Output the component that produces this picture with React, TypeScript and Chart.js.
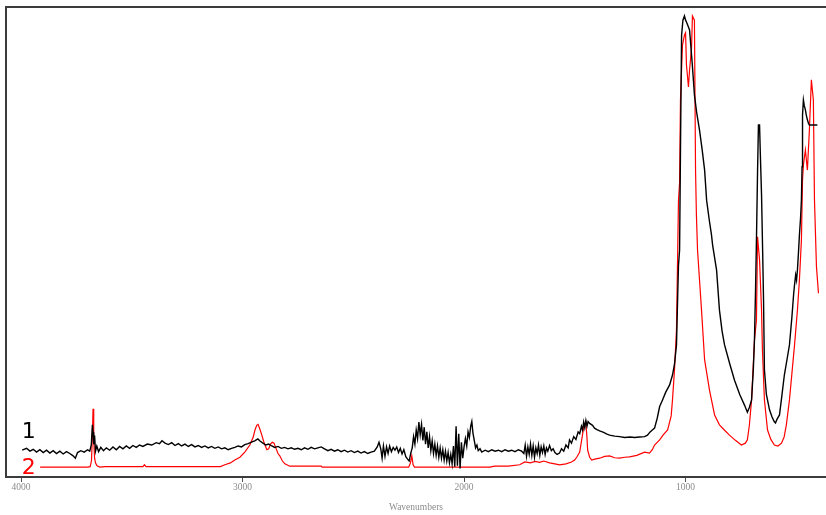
import { useEffect, useRef } from "react";
import { Chart, registerables } from "chart.js";

Chart.register(...registerables);

// Wavenumber axis (cm-1), drawn high to low
const wavenumberLow = 366;
const wavenumberHigh = 4068;
const xTickValues = [4000, 3000, 2000, 1000];

// Spectrum 1 (black): [wavenumber, absorbance]
const spectrum1: [number, number][] = [
  [3995, 0.057], [3975, 0.061], [3960, 0.055], [3945, 0.059], [3930, 0.053], [3915, 0.058], [3900, 0.052],
  [3885, 0.057], [3870, 0.051], [3855, 0.056], [3840, 0.05], [3825, 0.055], [3810, 0.049], [3795, 0.054],
  [3780, 0.05], [3765, 0.045], [3755, 0.04], [3745, 0.052], [3730, 0.056], [3715, 0.053], [3700, 0.058],
  [3690, 0.055], [3683, 0.068], [3678, 0.111], [3675, 0.095], [3672, 0.07], [3668, 0.088], [3664, 0.055],
  [3658, 0.066], [3650, 0.054], [3640, 0.063], [3628, 0.056], [3615, 0.062], [3600, 0.057], [3585, 0.064],
  [3570, 0.058], [3555, 0.065], [3540, 0.06], [3525, 0.066], [3510, 0.061], [3495, 0.067], [3480, 0.063],
  [3465, 0.068], [3450, 0.065], [3430, 0.07], [3410, 0.068], [3390, 0.073], [3375, 0.071], [3364, 0.077],
  [3350, 0.072], [3335, 0.069], [3320, 0.073], [3305, 0.067], [3290, 0.071], [3275, 0.066], [3260, 0.07],
  [3245, 0.065], [3230, 0.069], [3215, 0.064], [3200, 0.067], [3185, 0.063], [3170, 0.066], [3155, 0.062],
  [3140, 0.065], [3125, 0.061], [3110, 0.064], [3095, 0.06], [3080, 0.062], [3065, 0.058], [3050, 0.061],
  [3035, 0.063], [3020, 0.066], [3005, 0.064], [2990, 0.069], [2975, 0.071], [2960, 0.074], [2945, 0.077],
  [2931, 0.081], [2920, 0.076], [2908, 0.072], [2895, 0.068], [2882, 0.07], [2868, 0.066], [2855, 0.063],
  [2840, 0.065], [2825, 0.061], [2810, 0.063], [2795, 0.06], [2780, 0.062], [2765, 0.059], [2750, 0.061],
  [2735, 0.058], [2720, 0.062], [2705, 0.059], [2690, 0.063], [2675, 0.06], [2660, 0.062], [2645, 0.064],
  [2630, 0.06], [2615, 0.056], [2600, 0.059], [2585, 0.055], [2570, 0.058], [2555, 0.054], [2540, 0.057],
  [2525, 0.053], [2510, 0.056], [2495, 0.052], [2480, 0.055], [2465, 0.051], [2450, 0.054], [2435, 0.05],
  [2420, 0.053], [2405, 0.055], [2392, 0.064], [2384, 0.074], [2376, 0.06], [2370, 0.04], [2364, 0.066],
  [2357, 0.044], [2350, 0.064], [2343, 0.05], [2336, 0.066], [2328, 0.054], [2320, 0.063], [2312, 0.057],
  [2304, 0.064], [2296, 0.052], [2288, 0.061], [2280, 0.049], [2272, 0.058], [2263, 0.043], [2255, 0.038],
  [2248, 0.034], [2240, 0.052], [2234, 0.062], [2228, 0.086], [2222, 0.07], [2216, 0.1], [2210, 0.082],
  [2204, 0.117], [2198, 0.09], [2192, 0.112], [2186, 0.078], [2180, 0.106], [2174, 0.07], [2168, 0.096],
  [2162, 0.062], [2156, 0.086], [2150, 0.056], [2144, 0.077], [2138, 0.05], [2132, 0.07], [2126, 0.046],
  [2120, 0.066], [2114, 0.042], [2108, 0.062], [2102, 0.04], [2096, 0.058], [2090, 0.036], [2084, 0.055],
  [2078, 0.034], [2072, 0.052], [2066, 0.03], [2060, 0.048], [2054, 0.028], [2048, 0.066], [2042, 0.022],
  [2036, 0.108], [2030, 0.024], [2024, 0.092], [2018, 0.018], [2012, 0.074], [2006, 0.04], [2000, 0.064],
  [1994, 0.082], [1988, 0.066], [1982, 0.096], [1976, 0.084], [1970, 0.108], [1965, 0.118], [1960, 0.094],
  [1954, 0.078], [1948, 0.062], [1942, 0.068], [1936, 0.056], [1928, 0.06], [1920, 0.053], [1905, 0.057],
  [1890, 0.054], [1875, 0.058], [1860, 0.055], [1845, 0.057], [1830, 0.054], [1815, 0.058], [1800, 0.055],
  [1785, 0.057], [1770, 0.054], [1755, 0.058], [1740, 0.055], [1730, 0.05], [1724, 0.068], [1718, 0.044],
  [1712, 0.064], [1706, 0.048], [1700, 0.07], [1694, 0.046], [1688, 0.066], [1682, 0.042], [1676, 0.062],
  [1670, 0.05], [1664, 0.068], [1658, 0.046], [1652, 0.064], [1646, 0.052], [1640, 0.066], [1634, 0.048],
  [1628, 0.062], [1622, 0.055], [1614, 0.067], [1606, 0.056], [1598, 0.06], [1590, 0.052], [1580, 0.048],
  [1569, 0.051], [1560, 0.06], [1550, 0.055], [1540, 0.068], [1530, 0.062], [1524, 0.079], [1515, 0.072],
  [1505, 0.086], [1495, 0.08], [1485, 0.096], [1478, 0.092], [1470, 0.108], [1465, 0.1], [1460, 0.117],
  [1455, 0.105], [1450, 0.12], [1445, 0.108], [1440, 0.118], [1433, 0.114], [1420, 0.11], [1411, 0.104],
  [1400, 0.101], [1388, 0.098], [1370, 0.095], [1355, 0.091], [1343, 0.089], [1320, 0.087], [1298, 0.086],
  [1275, 0.084], [1250, 0.085], [1230, 0.084], [1208, 0.085], [1185, 0.086], [1172, 0.089], [1160, 0.096],
  [1150, 0.1], [1140, 0.104], [1128, 0.125], [1117, 0.15], [1104, 0.164], [1090, 0.18], [1072, 0.196],
  [1059, 0.217], [1050, 0.24], [1041, 0.281], [1036, 0.377], [1032, 0.45], [1027, 0.483], [1023, 0.696],
  [1018, 0.94], [1012, 0.972], [1005, 0.981], [1000, 0.972], [996, 0.968], [991, 0.962], [982, 0.951],
  [970, 0.88], [960, 0.813], [950, 0.776], [937, 0.738], [925, 0.696], [914, 0.653], [905, 0.589],
  [894, 0.55], [883, 0.515], [878, 0.494], [870, 0.47], [860, 0.44], [847, 0.355], [835, 0.31],
  [824, 0.281], [800, 0.24], [779, 0.206], [755, 0.175], [734, 0.153], [721, 0.138], [712, 0.148],
  [702, 0.164], [694, 0.23], [689, 0.291], [684, 0.4], [680, 0.504], [675, 0.65], [671, 0.749],
  [666, 0.749], [662, 0.68], [657, 0.6], [652, 0.48], [648, 0.377], [644, 0.228], [635, 0.175],
  [621, 0.143], [610, 0.128], [600, 0.118], [594, 0.115], [588, 0.122], [576, 0.132], [566, 0.17],
  [554, 0.217], [542, 0.25], [531, 0.281], [520, 0.34], [512, 0.39], [508, 0.409], [503, 0.43],
  [499, 0.419], [495, 0.44], [490, 0.48], [486, 0.515], [481, 0.55], [477, 0.589], [474, 0.66],
  [472, 0.77], [468, 0.802], [464, 0.79], [459, 0.781], [455, 0.77], [450, 0.76], [445, 0.752],
  [441, 0.749], [405, 0.749],
];

// Spectrum 2 (red): [wavenumber, absorbance]
const spectrum2: [number, number][] = [
  [3914, 0.021], [3800, 0.021], [3700, 0.021], [3688, 0.022], [3682, 0.035], [3678, 0.09], [3675, 0.145],
  [3672, 0.08], [3668, 0.04], [3664, 0.03], [3657, 0.024], [3645, 0.021], [3620, 0.022], [3560, 0.022],
  [3500, 0.022], [3450, 0.022], [3443, 0.026], [3436, 0.022], [3300, 0.022], [3200, 0.022], [3100, 0.022],
  [3080, 0.026], [3055, 0.03], [3035, 0.036], [3012, 0.042], [2990, 0.053], [2967, 0.068], [2952, 0.085],
  [2944, 0.1], [2936, 0.11], [2930, 0.112], [2922, 0.102], [2913, 0.089], [2905, 0.076], [2899, 0.068],
  [2890, 0.058], [2882, 0.06], [2874, 0.07], [2866, 0.074], [2858, 0.072], [2850, 0.062], [2840, 0.05],
  [2832, 0.045], [2820, 0.034], [2809, 0.028], [2787, 0.023], [2700, 0.023], [2645, 0.023], [2640, 0.021],
  [2500, 0.021], [2400, 0.021], [2250, 0.021], [2242, 0.03], [2236, 0.045], [2230, 0.026], [2224, 0.021],
  [2100, 0.021], [2000, 0.021], [1900, 0.021], [1884, 0.021], [1862, 0.023], [1800, 0.023], [1749, 0.026],
  [1726, 0.032], [1700, 0.03], [1680, 0.033], [1659, 0.031], [1640, 0.034], [1614, 0.03], [1590, 0.028],
  [1569, 0.026], [1540, 0.028], [1515, 0.032], [1501, 0.036], [1490, 0.043], [1478, 0.053], [1469, 0.079],
  [1460, 0.105], [1451, 0.117], [1446, 0.09], [1442, 0.057], [1433, 0.042], [1424, 0.036], [1410, 0.038],
  [1388, 0.04], [1365, 0.044], [1343, 0.045], [1320, 0.041], [1298, 0.04], [1275, 0.042], [1253, 0.043],
  [1220, 0.046], [1185, 0.053], [1163, 0.051], [1150, 0.058], [1140, 0.068], [1117, 0.079], [1100, 0.09],
  [1081, 0.1], [1065, 0.13], [1059, 0.164], [1050, 0.228], [1041, 0.313], [1032, 0.589], [1027, 0.626],
  [1023, 0.802], [1014, 0.919], [1005, 0.94], [1000, 0.945], [996, 0.877], [987, 0.83], [982, 0.866],
  [973, 0.913], [969, 0.981], [960, 0.972], [955, 0.653], [951, 0.557], [946, 0.483], [937, 0.419],
  [928, 0.355], [914, 0.249], [892, 0.185], [869, 0.132], [847, 0.111], [825, 0.1], [802, 0.089],
  [775, 0.078], [748, 0.068], [730, 0.072], [721, 0.079], [712, 0.11], [702, 0.164], [689, 0.291],
  [680, 0.334], [675, 0.511], [666, 0.462], [657, 0.355], [653, 0.27], [644, 0.164], [630, 0.1],
  [615, 0.08], [599, 0.068], [583, 0.066], [567, 0.072], [555, 0.085], [545, 0.111], [531, 0.164],
  [520, 0.22], [508, 0.281], [495, 0.355], [486, 0.419], [477, 0.504], [472, 0.632], [468, 0.664],
  [459, 0.696], [450, 0.653], [441, 0.738], [432, 0.845], [423, 0.802], [418, 0.589], [409, 0.447],
  [400, 0.391],
];

// Trace numbers written beside the start of each spectrum
const traceLabels = [
  { text: "1", color: "#000000", wavenumber: 3965, absorbance: 0.083 },
  { text: "2", color: "#ff0000", wavenumber: 3965, absorbance: 0.006 },
];

const frameColor = "#3c3c3c";
const axisTextColor = "#8c8c8c";
const serifFamily = '"Liberation Serif", "DejaVu Serif", serif';

const traceLabelPlugin = {
  id: "traceLabels",
  afterDatasetsDraw(chart: any) {
    const { ctx, scales } = chart;
    const x = scales.x;
    const y = scales.y;
    ctx.save();
    ctx.font = '22px "DejaVu Sans", sans-serif';
    ctx.textAlign = "center";
    ctx.textBaseline = "alphabetic";
    for (const l of traceLabels) {
      ctx.fillStyle = l.color;
      ctx.fillText(l.text, x.getPixelForValue(l.wavenumber), y.getPixelForValue(l.absorbance));
    }
    ctx.restore();
  },
};

export default function App() {
  const canvasRef = useRef<HTMLCanvasElement>(null);

  useEffect(() => {
    const canvas = canvasRef.current;
    if (!canvas) return;
    const chart = new Chart(canvas, {
      type: "line",
      data: {
        datasets: [
          {
            label: "1",
            data: spectrum1.map(([x, y]) => ({ x, y })),
            borderColor: "#000000",
            borderWidth: 1.4,
            pointRadius: 0,
            tension: 0,
            fill: false,
          },
          {
            label: "2",
            data: spectrum2.map(([x, y]) => ({ x, y })),
            borderColor: "#ff0000",
            borderWidth: 1.2,
            pointRadius: 0,
            tension: 0,
            fill: false,
          },
        ],
      },
      options: {
        responsive: false,
        animation: false,
        layout: { padding: 0 },
        plugins: {
          legend: { display: false },
          tooltip: { enabled: false },
        },
        scales: {
          x: {
            type: "linear",
            position: "bottom",
            reverse: true,
            min: wavenumberLow,
            max: wavenumberHigh,
            afterBuildTicks: (scale: any) => {
              scale.ticks = xTickValues.map((value) => ({ value }));
            },
            afterFit: (scale: any) => {
              scale.height = 38;
            },
            ticks: {
              autoSkip: false,
              maxRotation: 0,
              padding: 0,
              color: axisTextColor,
              font: { family: serifFamily, size: 9.5 },
              callback: (v: any) => String(v),
            },
            grid: {
              display: true,
              drawOnChartArea: false,
              drawTicks: true,
              tickLength: 5,
              color: "#555555",
              lineWidth: 1,
            },
            border: { display: true, color: frameColor, width: 2 },
            title: {
              display: true,
              text: "Wavenumbers",
              color: axisTextColor,
              font: { family: serifFamily, size: 9.5 },
              padding: { top: 0, bottom: 2 },
            },
          },
          xTop: {
            type: "linear",
            position: "top",
            reverse: true,
            min: wavenumberLow,
            max: wavenumberHigh,
            ticks: { display: false },
            grid: { display: false },
            border: { display: true, color: frameColor, width: 2 },
            afterFit: (scale: any) => {
              scale.height = 7;
            },
          },
          y: {
            type: "linear",
            position: "left",
            min: 0,
            max: 1,
            ticks: { display: false },
            grid: { display: false },
            border: { display: true, color: frameColor, width: 2 },
            afterFit: (scale: any) => {
              scale.width = 6;
            },
          },
        },
      } as any,
      plugins: [traceLabelPlugin],
    });
    return () => chart.destroy();
  }, []);

  return (
    <div style={{ position: "absolute", left: 0, top: 0, width: 826, height: 515, background: "#ffffff" }}>
      <canvas ref={canvasRef} width={826} height={515} style={{ display: "block" }} />
    </div>
  );
}
